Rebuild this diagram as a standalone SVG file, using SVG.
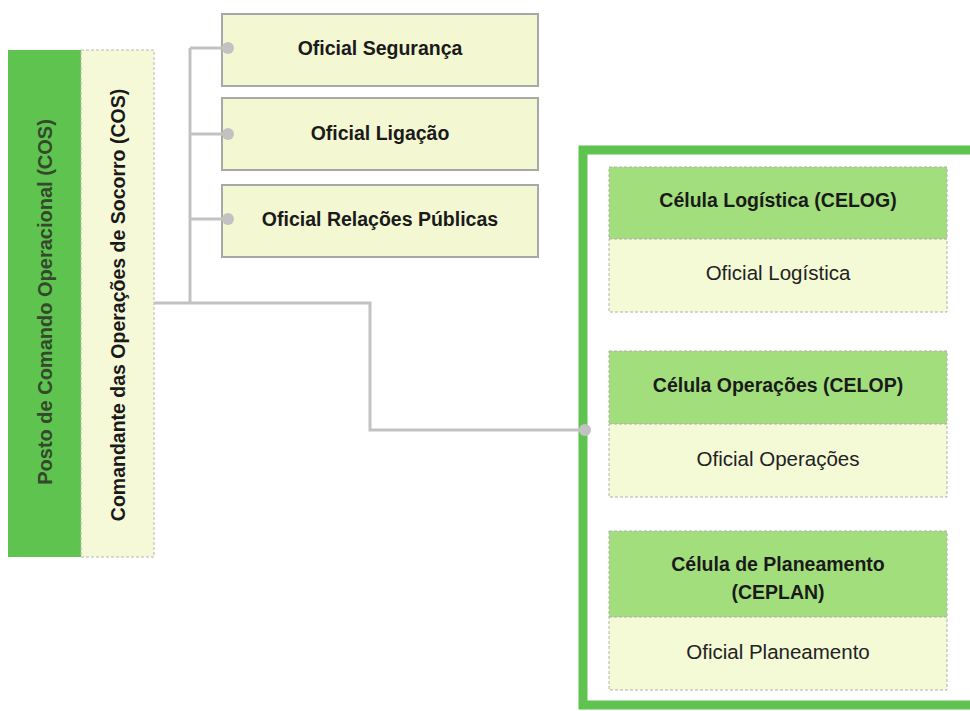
<svg xmlns="http://www.w3.org/2000/svg" width="970" height="711" viewBox="0 0 970 711">
<style>
.t{font-family:"Liberation Sans",Arial,sans-serif;text-anchor:middle;dominant-baseline:central}
.b{font-weight:bold;font-size:19.5px;fill:#1a1a1a}
.r{font-size:20.5px;fill:#222}
.box{fill:#f3f7d2;stroke:#a8a8a8;stroke-width:2}
.hdr{fill:#a2df7c;stroke:#b0b0b0;stroke-width:1;stroke-dasharray:3 2}
.body{fill:#f4f9d6;stroke:#b0b0b0;stroke-width:1;stroke-dasharray:3 2}
.con{fill:none;stroke:#c2c2c2;stroke-width:3}
.dot{fill:#c2c2c2}
</style>
<rect width="970" height="711" fill="#fff"/>
<g id="posto">
<rect x="8" y="50" width="73" height="507" fill="#5ec34f"/>
<text class="t b" style="fill:#34482c;font-size:20px" transform="translate(45,302) rotate(-90)">Posto de Comando Operacional (COS)</text>
</g>
<g id="comandante">
<rect x="81" y="50" width="73" height="507" fill="#f5f9d8" stroke="#b8b8b8" stroke-width="1" stroke-dasharray="3 2"/>
<text class="t b" transform="translate(118,305) rotate(-90)">Comandante das Operações de Socorro (COS)</text>
</g>
<g id="seguranca">
<rect class="box" x="222" y="14" width="316" height="72"/>
<text class="t b" x="380" y="48">Oficial Segurança</text>
</g>
<g id="ligacao">
<rect class="box" x="222" y="98" width="316" height="72"/>
<text class="t b" x="380" y="133">Oficial Ligação</text>
</g>
<g id="relacoes">
<rect class="box" x="222" y="185" width="316" height="72"/>
<text class="t b" x="380" y="219">Oficial Relações Públicas</text>
</g>
<g id="celulas">
<rect x="583" y="150" width="400" height="555" fill="#fff" stroke="#5ec34f" stroke-width="9"/>
</g>
<g id="celog">
<rect class="hdr" x="609" y="167" width="338" height="72"/>
<rect class="body" x="609" y="239" width="338" height="73"/>
<text class="t b" x="778" y="200">Célula Logística (CELOG)</text>
<text class="t r" x="778" y="272">Oficial Logística</text>
</g>
<g id="celop">
<rect class="hdr" x="609" y="351" width="338" height="73"/>
<rect class="body" x="609" y="424" width="338" height="73"/>
<text class="t b" x="778" y="385">Célula Operações (CELOP)</text>
<text class="t r" x="778" y="458">Oficial Operações</text>
</g>
<g id="ceplan">
<rect class="hdr" x="609" y="531" width="338" height="86"/>
<rect class="body" x="609" y="617" width="338" height="73"/>
<text class="t b" x="778" y="564">Célula de Planeamento</text>
<text class="t b" x="778" y="592">(CEPLAN)</text>
<text class="t r" x="778" y="651">Oficial Planeamento</text>
</g>
<g id="connectors">
<path class="con" d="M154,303 H370 V430 H585"/>
<path class="con" d="M190,48 V303"/>
<path class="con" d="M190,48 H228 M190,134 H228 M190,219 H228"/>
<circle class="dot" cx="228" cy="48" r="6"/>
<circle class="dot" cx="228" cy="134" r="6"/>
<circle class="dot" cx="228" cy="219" r="6"/>
<circle class="dot" cx="585" cy="430" r="6"/>
</g>
</svg>
